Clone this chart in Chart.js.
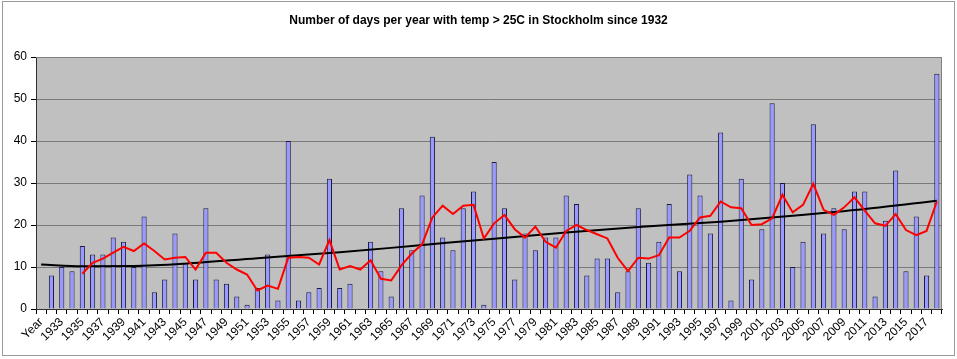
<!DOCTYPE html>
<html>
<head>
<meta charset="utf-8">
<script src="https://cdn.jsdelivr.net/npm/chart.js@4.4.1/dist/chart.umd.min.js"></script>
<style>
html,body{margin:0;padding:0;background:#fff;}
#wrap{width:957px;height:359px;position:relative;}
</style>
</head>
<body>
<div id="wrap"><canvas id="c" width="957" height="359"></canvas></div>
<script>
// Categories (first category is the header cell "Year")
const categories = ["Year",
 "1932","1933","1934","1935","1936","1937","1938","1939","1940","1941",
 "1942","1943","1944","1945","1946","1947","1948","1949","1950","1951",
 "1952","1953","1954","1955","1956","1957","1958","1959","1960","1961",
 "1962","1963","1964","1965","1966","1967","1968","1969","1970","1971",
 "1972","1973","1974","1975","1976","1977","1978","1979","1980","1981",
 "1982","1983","1984","1985","1986","1987","1988","1989","1990","1991",
 "1992","1993","1994","1995","1996","1997","1998","1999","2000","2001",
 "2002","2003","2004","2005","2006","2007","2008","2009","2010","2011",
 "2012","2013","2014","2015","2016","2017","2018"];

// Days per year with temp > 25C (bars)
const daysOver25 = [null,
 8,10,9,15,13,13,17,16,10,22,
 4,7,18,11,7,24,7,6,3,1,
 5,13,2,40,2,4,5,31,5,6,
 0,16,9,3,24,14,27,41,17,14,
 24,28,1,35,24,7,18,14,17,17,
 27,25,8,12,12,4,9,24,11,16,
 25,9,32,27,18,42,2,31,7,19,
 49,30,10,16,44,18,24,19,28,28,
 3,21,33,9,22,8,56];

// Red line: 5-year moving average
const movingAverage = [null,null,null,null,
 8.4,11.0,12.0,13.4,14.8,13.8,15.6,
 13.8,11.8,12.2,12.4,9.4,13.4,13.4,11.0,9.4,8.2,
 4.4,5.6,4.8,12.2,12.4,12.2,10.6,16.4,9.4,10.2,
 9.4,11.6,7.2,6.8,10.4,13.2,15.4,21.8,24.6,22.6,
 24.6,24.8,16.8,20.4,22.4,19.0,17.0,19.6,16.0,14.6,
 18.6,20.0,18.8,17.8,16.8,12.2,9.0,12.2,12.0,12.8,
 17.0,17.0,18.6,21.8,22.2,25.6,24.2,24.0,20.0,20.2,
 21.6,27.2,23.0,24.8,29.8,23.6,22.4,24.2,26.6,23.4,
 20.4,19.8,22.6,18.8,17.6,18.6,25.6];

// Black trend curve: values read at sampled categories (gaps spanned)
const trendIndex = [0, 4, 9, 14, 21, 29, 36, 44, 51, 58, 66, 73, 80, 87];
const trendValue = [10.6, 10.2, 10.25, 10.8, 12.1, 13.5, 15.0, 16.75, 18.2, 19.5, 20.8, 22.2, 23.8, 25.8];

const titleText = "Number of days per year with temp > 25C in Stockholm since 1932";

const trendLine = categories.map(() => null);
trendIndex.forEach((idx, k) => { trendLine[idx] = trendValue[k]; });

const FONT = "'Liberation Sans', Arial, sans-serif";

const bgPlugin = {
  id: 'bg',
  beforeDraw(chart) {
    const {ctx, chartArea: a, width, height} = chart;
    ctx.save();
    ctx.fillStyle = '#ffffff';
    ctx.fillRect(0, 0, width, height);
    ctx.strokeStyle = '#9a9a9a';
    ctx.lineWidth = 1;
    ctx.strokeRect(2.5, 1.5, 952, 354);
    ctx.fillStyle = '#c0c0c0';
    ctx.fillRect(a.left, a.top, a.right - a.left, a.bottom - a.top);
    ctx.fillStyle = '#000';
    ctx.font = "bold 12px " + FONT;
    ctx.textAlign = 'center';
    ctx.textBaseline = 'middle';
    ctx.fillText(titleText, 478.5, 21);
    ctx.restore();
  },
  afterDatasetsDraw(chart) {
    const {ctx, chartArea: a} = chart;
    ctx.save();
    ctx.strokeStyle = '#808080';
    ctx.lineWidth = 1;
    ctx.beginPath();
    ctx.moveTo(a.left, a.top + 0.5);
    ctx.lineTo(a.right - 0.5, a.top + 0.5);
    ctx.lineTo(a.right - 0.5, a.bottom);
    ctx.stroke();
    ctx.restore();
  }
};

new Chart(document.getElementById('c'), {
  type: 'bar',
  data: {
    labels: categories,
    datasets: [
      {
        type: 'line',
        data: movingAverage,
        borderColor: '#ff0000',
        borderWidth: 2,
        pointRadius: 0,
        tension: 0,
        order: 0
      },
      {
        type: 'line',
        data: trendLine,
        borderColor: '#000000',
        borderWidth: 2,
        pointRadius: 0,
        spanGaps: true,
        cubicInterpolationMode: 'monotone',
        order: 1
      },
      {
        type: 'bar',
        data: daysOver25,
        backgroundColor: '#9999ff',
        borderColor: '#1a1a40',
        borderWidth: 1,
        barPercentage: 0.5,
        categoryPercentage: 1,
        order: 2
      }
    ]
  },
  options: {
    responsive: false,
    animation: false,
    devicePixelRatio: 1,
    layout: { padding: { left: 0, right: 15, top: 57, bottom: 0 } },
    plugins: {
      legend: { display: false },
      title: { display: false },
      tooltip: { enabled: false }
    },
    scales: {
      x: {
        offset: true,
        grid: { offset: true, display: true, drawOnChartArea: false, drawTicks: true, tickLength: 5, color: '#000' },
        border: { display: true, color: '#303030', width: 1 },
        ticks: {
          autoSkip: false, maxRotation: 45, minRotation: 45, padding: 1,
          color: '#000', font: { family: FONT, size: 12 },
          callback: (v, i) => (i % 2 === 0 ? categories[i] : '')
        },
        afterFit: (s) => { s.height = 50; }
      },
      y: {
        min: 0, max: 60,
        ticks: { stepSize: 10, color: '#000', padding: 4, font: { family: FONT, size: 12 } },
        grid: { color: '#7a7a7a', lineWidth: 1, tickLength: 5, tickColor: '#000', drawTicks: true },
        border: { display: true, color: '#303030', width: 1 },
        afterFit: (s) => { s.width = 36; }
      }
    }
  },
  plugins: [bgPlugin]
});
</script>
</body>
</html>
